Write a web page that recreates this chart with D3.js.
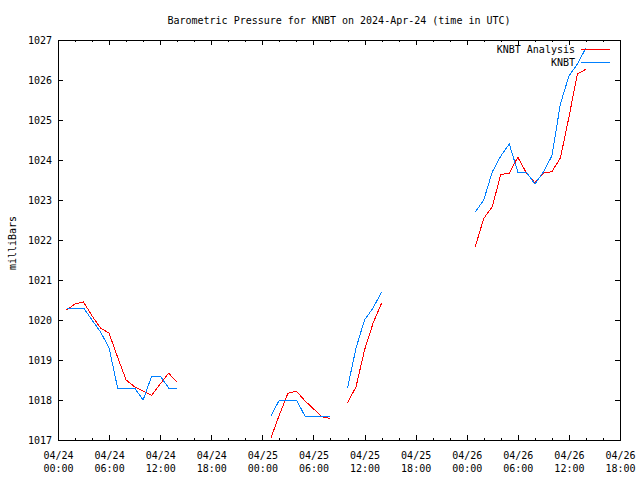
<!DOCTYPE html>
<html>
<head>
<meta charset="utf-8">
<script src="https://cdn.jsdelivr.net/npm/d3@7"></script>
<style>
  body { margin: 0; background: #fff; }
  svg { display: block; }
  text { font-family: "DejaVu Sans Mono", monospace; font-size: 10px; fill: #000; }
</style>
</head>
<body>
<svg id="chart" width="640" height="480"></svg>
<script>
// ---- data (hours after 2024-04-24 00:00 UTC) ----
const startTime = "2024-04-24T00:00:00Z";
const hours = [1,2,3,4,5,6,7,8,9,10,11,12,13,14,
               25,26,27,28,29,30,31,32,
               34,35,36,37,38,
               49,50,51,52,53,54,55,56,57,58,59,60,61,62];
const knbt = [1020.3,1020.3,1020.3,1020.0,1019.7,1019.3,1018.3,1018.3,1018.3,1018.0,1018.6,1018.6,1018.3,1018.3,
              1017.6,1018.0,1018.0,1018.0,1017.6,1017.6,1017.6,1017.6,
              1018.3,1019.3,1020.0,1020.3,1020.7,
              1022.7,1023.0,1023.7,1024.1,1024.4,1023.7,1023.7,1023.4,1023.7,1024.1,1025.4,1026.1,1026.4,1026.8];
const analysis = [1020.25,1020.4,1020.45,1020.1,1019.8,1019.67,1019.07,1018.5,1018.33,1018.22,1018.12,1018.4,1018.67,1018.44,
                  1017.05,1017.63,1018.17,1018.22,1017.98,1017.78,1017.58,1017.54,
                  1017.93,1018.33,1019.25,1019.92,1020.42,
                  1021.83,1022.54,1022.83,1023.64,1023.67,1024.07,1023.68,1023.43,1023.67,1023.71,1024.05,1025.07,1026.15,1026.27];
const xTickLabels = ["04/24 00:00","04/24 06:00","04/24 12:00","04/24 18:00",
                     "04/25 00:00","04/25 06:00","04/25 12:00","04/25 18:00",
                     "04/26 00:00","04/26 06:00","04/26 12:00","04/26 18:00"];
const yTicks = [1017,1018,1019,1020,1021,1022,1023,1024,1025,1026,1027];
const seriesNames = ["KNBT Analysis","KNBT"];
const seriesColors = ["#ff0000","#0080ff"];
const title = "Barometric Pressure for KNBT on 2024-Apr-24 (time in UTC)";
const yTitle = "milliBars";

(function () {
// ---- layout ----
const svg = d3.select("#chart");
const pL = 58, pR = 620, pT = 40, pB = 440;
const t0 = new Date(startTime);
const toDate = h => new Date(t0.getTime() + h * 3600e3);
const endDate = new Date(Date.UTC(2024,3,26,18));

const x = d3.scaleUtc().domain([t0, endDate]).range([pL, pR]);
const y = d3.scaleLinear().domain([1017, 1027]).range([pB, pT]);

const majorTicks = d3.utcHour.every(6).range(t0, new Date(endDate.getTime()+1));
const minorTicks = d3.utcHour.every(2).range(t0, new Date(endDate.getTime()+1)).filter(d => d.getUTCHours() % 6 !== 0);

// minor ticks bottom & top
svg.append("g").attr("transform", `translate(0,${pB})`)
  .call(d3.axisBottom(x).tickValues(minorTicks).tickSize(-2).tickFormat(""))
  .call(g => g.select(".domain").remove());
svg.append("g").attr("transform", `translate(0,${pT})`)
  .call(d3.axisTop(x).tickValues(minorTicks).tickSize(-2).tickFormat(""))
  .call(g => g.select(".domain").remove());

// major bottom axis with two-line labels
const fmt = d3.utcFormat("%m/%d %H:%M");
const labelMap = new Map(xTickLabels.map(s => [s, s.split(" ")]));
const gx = svg.append("g").attr("transform", `translate(0,${pB})`)
  .call(d3.axisBottom(x).tickValues(majorTicks).tickSize(-5).tickPadding(9).tickFormat(fmt));
gx.select(".domain").remove();
gx.selectAll(".tick text").each(function(d) {
  const parts = labelMap.get(fmt(d)) || fmt(d).split(" ");
  const t = d3.select(this).text(null).attr("y", 0).attr("dy", null);
  t.append("tspan").attr("x", 0).attr("y", 19).text(parts[0]);
  t.append("tspan").attr("x", 0).attr("y", 32).text(parts[1]);
});
svg.append("g").attr("transform", `translate(0,${pT})`)
  .call(d3.axisTop(x).tickValues(majorTicks).tickSize(-5).tickFormat(""))
  .call(g => g.select(".domain").remove());

// y axes
const gy = svg.append("g").attr("transform", `translate(${pL},0)`)
  .call(d3.axisLeft(y).tickValues(yTicks).tickSize(-5).tickPadding(6).tickFormat(d3.format("d")));
gy.select(".domain").remove();
svg.append("g").attr("transform", `translate(${pR},0)`)
  .call(d3.axisRight(y).tickValues(yTicks).tickSize(-5).tickFormat(""))
  .call(g => g.select(".domain").remove());

svg.selectAll(".tick line").attr("stroke", "#000").attr("shape-rendering", "crispEdges");
svg.selectAll(".tick text").style("font-family", "DejaVu Sans Mono").style("font-size", "10px");

// border
svg.append("rect").attr("x", pL).attr("y", pT)
  .attr("width", pR - pL).attr("height", pB - pT)
  .attr("fill", "none").attr("stroke", "#000").attr("shape-rendering", "crispEdges");

// split into contiguous segments
function segments(vals) {
  const segs = []; let cur = [];
  hours.forEach((h, i) => {
    if (i > 0 && h - hours[i-1] > 1) { segs.push(cur); cur = []; }
    cur.push([h, vals[i]]);
  });
  segs.push(cur);
  return segs;
}
const line = d3.line().x(d => x(toDate(d[0]))).y(d => y(d[1]));
[analysis, knbt].forEach((vals, si) => {
  svg.append("g").selectAll("path").data(segments(vals)).join("path")
    .attr("d", line).attr("fill", "none")
    .attr("stroke", seriesColors[si]).attr("stroke-width", 1)
    .attr("shape-rendering", "crispEdges");
});

// title
svg.append("text").attr("x", (pL + pR) / 2).attr("y", 20).attr("dy", "0.35em")
  .attr("text-anchor", "middle").text(title);
svg.append("text").attr("transform", "translate(12,243) rotate(-90)")
  .attr("text-anchor", "middle").attr("dy", "0.35em").text(yTitle);

// legend
seriesNames.forEach((name, i) => {
  const ly = 49 + i * 13.5;
  svg.append("text").attr("x", 575).attr("y", ly).attr("dy", "0.35em")
    .attr("text-anchor", "end").text(name);
  svg.append("line").attr("x1", 581).attr("x2", 610).attr("y1", ly).attr("y2", ly)
    .attr("stroke", seriesColors[i]).attr("stroke-width", 1)
    .attr("shape-rendering", "crispEdges");
});
})();
</script>
</body>
</html>
